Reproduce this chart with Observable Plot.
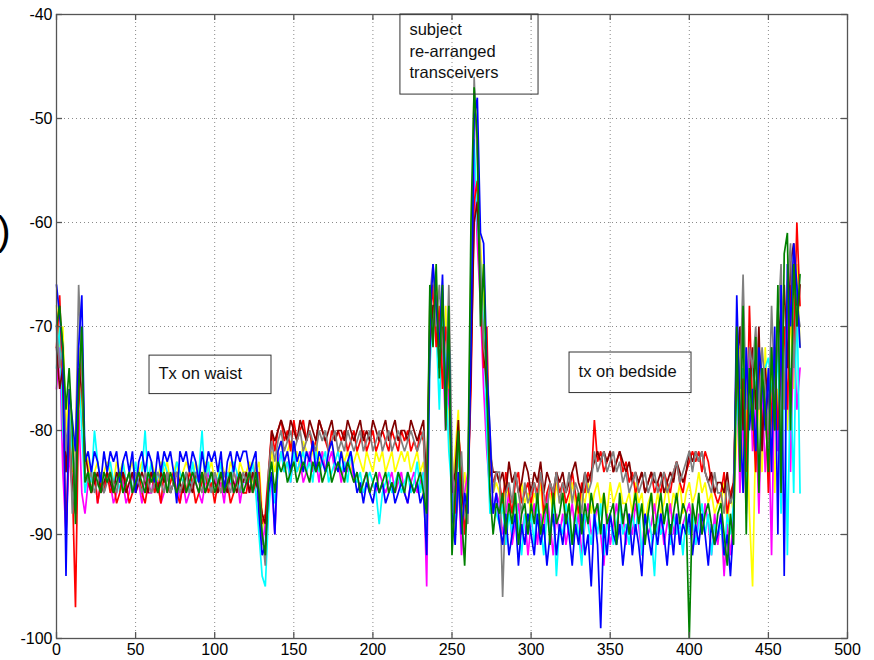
<!DOCTYPE html>
<html><head><meta charset="utf-8">
<script src="https://cdn.jsdelivr.net/npm/d3@7"></script>
<script src="https://cdn.jsdelivr.net/npm/@observablehq/plot@0.6"></script>
<style>
html,body{margin:0;padding:0;background:#fff;}
#wrap{position:relative;width:874px;height:660px;overflow:hidden;}
#paren{position:absolute;left:-3px;top:211px;font-family:"Liberation Sans",Arial,sans-serif;font-size:41px;line-height:1;color:#000;}
</style></head><body>
<div id="wrap"><div id="chart"></div><div id="paren">)</div></div>
<script>
const sampleStep = 2;
const xTicks = [0, 50, 100, 150, 200, 250, 300, 350, 400, 450, 500];
const yTicks = [-100, -90, -80, -70, -60, -50, -40];

const seriesNames = ["yellow", "magenta", "cyan", "red", "maroon", "gray", "blue", "green"];
const seriesColors = ["#c8c800", "#e020e0", "#00cccc", "#ff0000", "#8b1010", "#404040", "#0000ff", "#008000"];

const blue = [
-66,-69,-72,-94,-76,-79,-82,-72,-67,-83,
-82,-84,-82,-83,-85,-82,-84,-82,-83,-82,
-85,-83,-82,-84,-82,-86,-83,-82,-84,-82,
-83,-85,-82,-84,-82,-83,-82,-84,-87,-82,
-83,-82,-84,-82,-83,-85,-82,-84,-82,-83,
-82,-84,-82,-86,-83,-82,-84,-82,-83,-82,
-82,-84,-83,-82,-88,-92,-91,-86,-84,-90,
-82,-81,-83,-82,-84,-81,-83,-82,-84,-82,
-83,-81,-84,-82,-83,-84,-82,-81,-83,-84,
-82,-84,-83,-82,-84,-86,-85,-87,-85,-86,
-87,-85,-86,-85,-87,-86,-85,-87,-86,-85,
-86,-87,-85,-86,-85,-87,-86,-92,-70,-64,
-68,-72,-65,-78,-70,-88,-91,-84,-90,-86,
-88,-72,-50,-48,-61,-62,-74,-80,-88,-86,
-89,-91,-88,-92,-90,-88,-93,-89,-91,-88,
-90,-92,-88,-91,-89,-93,-90,-88,-92,-89,
-91,-88,-90,-93,-89,-91,-88,-92,-90,-95,
-88,-91,-99,-89,-92,-88,-90,-91,-89,-93,
-90,-88,-92,-89,-91,-94,-88,-90,-92,-89,
-91,-88,-90,-93,-89,-92,-88,-91,-89,-90,
-88,-92,-89,-91,-88,-90,-93,-89,-91,-90,
-88,-92,-90,-94,-89,-67,-78,-86,-72,-80,
-76,-82,-72,-75,-80,-74,-84,-70,-90,-66,
-94,-64,-70,-62,-66,-72];

const green = [
-70,-68,-72,-78,-74,-80,-89,-76,-70,-85,
-84,-86,-84,-85,-86,-84,-85,-84,-86,-85,
-84,-86,-85,-84,-86,-85,-84,-85,-86,-84,
-85,-84,-86,-85,-84,-86,-84,-85,-86,-85,
-84,-86,-85,-84,-85,-86,-84,-86,-85,-84,
-86,-85,-84,-86,-85,-84,-86,-85,-84,-86,
-85,-84,-86,-84,-86,-90,-92,-85,-83,-86,
-83,-84,-83,-85,-84,-83,-85,-84,-83,-84,
-85,-83,-84,-83,-85,-84,-83,-85,-84,-83,
-84,-85,-83,-84,-85,-84,-86,-85,-84,-86,
-85,-84,-86,-85,-84,-86,-85,-86,-84,-85,
-86,-84,-85,-86,-85,-84,-86,-88,-66,-72,
-64,-75,-66,-80,-68,-92,-86,-80,-88,-93,
-85,-60,-47,-52,-70,-64,-76,-86,-90,-87,
-88,-86,-90,-87,-89,-86,-91,-88,-87,-90,
-87,-89,-86,-90,-88,-87,-91,-86,-89,-88,
-86,-89,-87,-91,-88,-86,-90,-87,-89,-86,
-88,-87,-90,-86,-89,-88,-87,-91,-86,-89,
-87,-90,-88,-86,-89,-87,-91,-88,-86,-90,
-88,-86,-89,-87,-90,-88,-86,-89,-87,-88,
-100,-87,-89,-86,-90,-88,-87,-89,-91,-88,
-87,-90,-93,-88,-91,-70,-84,-68,-90,-74,
-80,-71,-86,-74,-78,-84,-72,-80,-66,-86,
-63,-61,-80,-64,-70,-65];

const red = [
-72,-67,-76,-90,-80,-85,-97,-78,-72,-84,
-85,-86,-84,-87,-85,-86,-84,-86,-85,-87,
-86,-84,-85,-87,-86,-85,-84,-86,-87,-85,
-84,-86,-85,-87,-84,-86,-85,-84,-86,-87,
-85,-86,-84,-85,-87,-86,-85,-84,-86,-85,
-87,-85,-86,-84,-85,-87,-86,-85,-84,-86,
-86,-84,-86,-85,-84,-89,-88,-84,-80,-82,
-80,-79,-81,-80,-82,-79,-81,-80,-79,-81,
-80,-82,-81,-79,-80,-81,-82,-80,-81,-80,
-81,-80,-82,-81,-80,-82,-81,-80,-82,-81,
-80,-82,-81,-80,-81,-82,-80,-81,-82,-80,
-81,-80,-82,-81,-82,-80,-81,-86,-70,-66,
-72,-68,-76,-70,-74,-84,-88,-80,-84,-90,
-86,-76,-58,-56,-66,-74,-70,-84,-85,-84,
-85,-87,-84,-86,-88,-85,-84,-87,-86,-85,
-87,-85,-86,-84,-88,-86,-85,-87,-84,-86,
-85,-87,-86,-84,-86,-88,-85,-86,-84,-85,
-79,-83,-82,-84,-83,-82,-84,-83,-82,-84,
-83,-85,-84,-86,-85,-84,-86,-85,-84,-86,
-85,-86,-84,-85,-86,-84,-83,-85,-86,-84,
-83,-82,-83,-82,-84,-82,-83,-85,-86,-87,
-86,-84,-88,-86,-85,-72,-80,-75,-84,-68,
-78,-84,-74,-80,-76,-86,-78,-72,-80,-74,
-70,-78,-66,-72,-60,-68];

const cyan = [
-74,-70,-80,-84,-78,-82,-86,-74,-80,-86,
-84,-85,-80,-83,-85,-86,-84,-83,-85,-84,
-86,-83,-85,-84,-86,-83,-85,-84,-80,-85,
-83,-86,-84,-85,-83,-84,-86,-85,-83,-84,
-85,-84,-86,-83,-85,-84,-80,-85,-83,-86,
-84,-85,-83,-86,-84,-85,-83,-84,-86,-85,
-84,-85,-83,-86,-90,-94,-95,-88,-84,-87,
-84,-82,-84,-83,-85,-82,-84,-83,-82,-84,
-83,-85,-82,-84,-83,-82,-85,-84,-83,-82,
-84,-83,-85,-82,-84,-85,-84,-86,-85,-84,
-85,-86,-89,-86,-85,-84,-86,-85,-84,-86,
-85,-84,-86,-85,-83,-86,-84,-90,-74,-68,
-70,-78,-68,-74,-82,-86,-90,-82,-86,-88,
-86,-66,-52,-60,-64,-70,-80,-88,-87,-88,
-89,-87,-91,-88,-90,-86,-89,-92,-88,-90,
-88,-91,-87,-89,-92,-88,-90,-87,-94,-89,
-90,-87,-89,-91,-88,-90,-93,-88,-89,-91,
-88,-90,-87,-92,-89,-88,-91,-89,-87,-90,
-89,-91,-88,-90,-87,-92,-89,-88,-90,-94,
-88,-90,-89,-87,-91,-88,-90,-89,-92,-88,
-90,-88,-91,-89,-87,-90,-88,-92,-89,-90,
-89,-92,-88,-90,-87,-76,-82,-74,-86,-78,
-74,-76,-73,-75,-74,-73,-76,-78,-72,-88,
-70,-92,-74,-86,-66,-86];

const magenta = [
-76,-72,-84,-90,-82,-86,-84,-78,-86,-88,
-85,-86,-84,-87,-85,-86,-84,-85,-87,-86,
-84,-85,-87,-86,-84,-86,-85,-87,-84,-86,
-86,-84,-85,-87,-86,-84,-86,-85,-84,-87,
-85,-87,-86,-84,-85,-86,-87,-85,-84,-86,
-84,-86,-85,-87,-84,-85,-86,-84,-87,-85,
-85,-86,-84,-86,-87,-91,-89,-86,-85,-90,
-83,-82,-84,-83,-85,-82,-84,-83,-85,-84,
-82,-84,-83,-85,-82,-84,-83,-82,-84,-83,
-85,-83,-84,-82,-85,-84,-86,-85,-84,-86,
-85,-86,-84,-85,-86,-85,-84,-86,-85,-84,
-86,-87,-85,-84,-86,-85,-84,-95,-72,-70,
-67,-74,-72,-80,-76,-84,-86,-84,-92,-86,
-84,-70,-54,-62,-68,-76,-82,-86,-88,-86,
-87,-90,-88,-86,-91,-89,-87,-90,-88,-92,
-89,-87,-91,-88,-90,-86,-89,-92,-88,-90,
-88,-91,-89,-87,-90,-88,-92,-89,-87,-90,
-89,-87,-90,-93,-88,-91,-89,-87,-90,-88,
-91,-88,-90,-87,-89,-92,-88,-90,-89,-87,
-90,-88,-91,-89,-87,-90,-88,-91,-89,-88,
-87,-89,-91,-88,-90,-87,-89,-92,-88,-91,
-88,-94,-89,-92,-88,-74,-86,-78,-88,-72,
-82,-78,-88,-76,-84,-78,-92,-74,-82,-70,
-76,-68,-84,-70,-78,-74];

const yellow = [
-68,-72,-70,-80,-76,-84,-80,-72,-78,-82,
-83,-85,-84,-83,-85,-84,-83,-84,-85,-83,
-84,-83,-85,-84,-83,-85,-84,-83,-84,-85,
-83,-84,-85,-83,-84,-83,-85,-84,-83,-85,
-84,-83,-84,-85,-83,-84,-85,-83,-84,-83,
-85,-84,-83,-84,-85,-83,-84,-85,-83,-84,
-84,-83,-85,-84,-83,-88,-90,-85,-82,-84,
-82,-81,-83,-82,-81,-83,-82,-84,-81,-82,
-83,-82,-81,-83,-82,-84,-82,-81,-83,-82,
-82,-83,-82,-84,-83,-82,-83,-84,-82,-83,
-84,-82,-83,-82,-84,-83,-82,-84,-83,-82,
-83,-82,-84,-83,-82,-84,-83,-88,-68,-66,
-66,-70,-74,-68,-78,-86,-82,-78,-88,-84,
-87,-64,-56,-58,-62,-68,-78,-82,-86,-85,
-86,-88,-85,-87,-89,-86,-88,-85,-87,-86,
-88,-86,-87,-85,-89,-87,-86,-88,-85,-87,
-86,-88,-87,-85,-87,-89,-86,-87,-85,-88,
-86,-85,-87,-86,-88,-85,-87,-86,-85,-87,
-87,-86,-88,-85,-87,-86,-89,-87,-86,-88,
-86,-88,-87,-85,-88,-86,-87,-85,-88,-86,
-85,-87,-86,-84,-86,-85,-87,-86,-88,-87,
-87,-85,-89,-86,-88,-80,-72,-86,-78,-88,
-95,-80,-76,-84,-72,-80,-74,-86,-76,-82,
-72,-80,-68,-76,-64,-72];

const gray = [
-70,-74,-72,-82,-78,-88,-82,-66,-74,-84,
-85,-84,-86,-85,-84,-86,-85,-84,-85,-86,
-84,-86,-85,-84,-86,-84,-85,-86,-84,-85,
-86,-85,-84,-85,-86,-84,-86,-85,-84,-86,
-85,-84,-86,-85,-84,-85,-86,-84,-85,-86,
-84,-85,-86,-84,-85,-86,-84,-85,-86,-84,
-85,-84,-86,-83,-85,-90,-93,-84,-81,-83,
-81,-80,-82,-81,-80,-82,-81,-80,-82,-81,
-80,-81,-82,-80,-81,-80,-82,-81,-80,-82,
-81,-82,-80,-81,-82,-81,-80,-82,-81,-80,
-82,-81,-80,-82,-81,-80,-82,-81,-80,-81,
-82,-81,-80,-81,-82,-81,-80,-90,-67,-64,
-70,-66,-72,-76,-66,-82,-90,-86,-82,-88,
-89,-68,-46,-54,-64,-72,-74,-80,-86,-84,
-84,-96,-86,-85,-87,-84,-86,-88,-85,-87,
-86,-85,-87,-84,-86,-88,-85,-86,-84,-87,
-85,-86,-84,-87,-85,-86,-88,-84,-86,-85,
-82,-84,-83,-82,-84,-83,-82,-84,-83,-85,
-84,-86,-85,-84,-86,-85,-84,-86,-85,-84,
-86,-85,-84,-86,-85,-84,-83,-85,-84,-83,
-82,-84,-82,-83,-82,-84,-85,-86,-84,-86,
-86,-88,-85,-87,-86,-70,-76,-65,-78,-72,
-74,-70,-78,-72,-76,-80,-68,-76,-70,-64,
-78,-66,-62,-74,-68,-70];

const maroon = [
-72,-76,-74,-84,-80,-86,-88,-74,-76,-82,
-84,-86,-85,-84,-86,-85,-84,-85,-86,-84,
-85,-84,-86,-85,-84,-86,-85,-84,-85,-86,
-84,-85,-86,-84,-85,-84,-86,-85,-84,-85,
-86,-84,-85,-86,-84,-85,-84,-86,-85,-84,
-85,-86,-84,-85,-86,-84,-85,-86,-84,-85,
-84,-86,-84,-85,-86,-88,-89,-85,-80,-81,
-80,-79,-80,-81,-79,-80,-81,-79,-80,-81,
-79,-80,-81,-79,-80,-81,-80,-79,-81,-80,
-80,-81,-79,-80,-81,-80,-79,-81,-80,-81,
-79,-80,-81,-80,-79,-81,-80,-79,-81,-80,
-80,-81,-79,-80,-81,-80,-79,-86,-72,-68,
-68,-74,-70,-76,-72,-86,-84,-79,-86,-88,
-86,-74,-60,-58,-66,-72,-76,-82,-84,-84,
-85,-84,-86,-83,-85,-84,-86,-85,-83,-84,
-86,-84,-85,-83,-86,-84,-85,-86,-84,-85,
-84,-86,-85,-84,-83,-85,-86,-84,-85,-84,
-83,-82,-83,-82,-83,-82,-84,-83,-82,-83,
-84,-83,-85,-84,-85,-84,-86,-85,-84,-85,
-85,-84,-86,-85,-84,-85,-83,-84,-85,-84,
-82,-83,-82,-83,-82,-84,-85,-84,-86,-85,
-85,-86,-84,-87,-85,-74,-70,-80,-74,-76,
-72,-78,-70,-82,-74,-78,-72,-80,-68,-72,
-66,-74,-64,-62,-70,-66];

const seriesValues = {yellow, magenta, cyan, red, maroon, gray, blue, green};

const boxes = [
  {x1: 217.4, x2: 304.7, y1: -40, y2: -47.7},
  {x1: 58.8, x2: 135.9, y1: -72.8, y2: -76.5},
  {x1: 324.3, x2: 401.4, y1: -72.5, y2: -76.4}
];
const notes = [
  {x: 223.1, y: -41.5, text: "subject"},
  {x: 223.1, y: -43.55, text: "re-arranged"},
  {x: 223.1, y: -45.6, text: "transceivers"},
  {x: 64.5, y: -74.5, text: "Tx on waist"},
  {x: 330.0, y: -74.3, text: "tx on bedside"}
];

const table = [];
for (const name of seriesNames) {
  seriesValues[name].forEach((v, i) => table.push({x: i * sampleStep, y: v, s: name}));
}

const chart = Plot.plot({
  width: 874, height: 660,
  marginLeft: 56, marginRight: 27, marginTop: 14, marginBottom: 22,
  style: {fontFamily: "'Liberation Sans', Arial, sans-serif", fontSize: "16px", background: "#fff", color: "#000"},
  x: {domain: [0, 500], axis: null},
  y: {domain: [-100, -40], axis: null},
  color: {domain: seriesNames, range: seriesColors},
  marks: [
    Plot.ruleX(xTicks.slice(1, -1), {x: d => d, stroke: "#8a8a8a", strokeWidth: 1, strokeDasharray: "1,3"}),
    Plot.ruleY(yTicks.slice(1, -1), {y: d => d, stroke: "#8a8a8a", strokeWidth: 1, strokeDasharray: "1,3"}),
    Plot.line(table, {x: "x", y: "y", z: "s", stroke: "s", strokeWidth: 1.7, strokeLinejoin: "miter", strokeMiterlimit: 2}),
    Plot.frame({stroke: "#555", strokeWidth: 1.3}),
    Plot.ruleX(xTicks, {x: d => d, insetTop: 618, stroke: "#555", strokeWidth: 1.3}),
    Plot.ruleX(xTicks, {x: d => d, insetBottom: 618, stroke: "#555", strokeWidth: 1.3}),
    Plot.ruleY(yTicks, {y: d => d, insetRight: 785, stroke: "#555", strokeWidth: 1.3}),
    Plot.ruleY(yTicks, {y: d => d, insetLeft: 785, stroke: "#555", strokeWidth: 1.3}),
    Plot.text(xTicks, {x: d => d, frameAnchor: "bottom", lineAnchor: "top", dy: 5, text: d => String(d), fontSize: 16, fill: "#000"}),
    Plot.text(yTicks, {y: d => d, frameAnchor: "left", textAnchor: "end", dx: -4, text: d => String(d), fontSize: 16, fill: "#000"}),
    Plot.rect(boxes, {x1: "x1", x2: "x2", y1: "y1", y2: "y2", fill: "none", stroke: "#333", strokeWidth: 1}),
    Plot.text(notes, {x: "x", y: "y", text: "text", textAnchor: "start", fontSize: 16.5, fill: "#111"})
  ]
});
document.getElementById("chart").appendChild(chart);
</script>
</body></html>
